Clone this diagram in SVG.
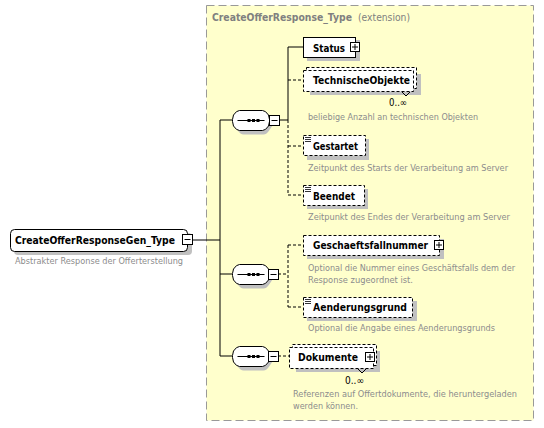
<svg xmlns="http://www.w3.org/2000/svg" width="544" height="428" viewBox="0 0 544 428">
<style>
.lbl{font-family:"DejaVu Sans","Liberation Sans",sans-serif;font-weight:bold;font-size:11px;fill:#000}
.desc{font-family:"DejaVu Sans","Liberation Sans",sans-serif;font-size:9px;fill:#8c8c8c}
.occ{font-family:"DejaVu Sans","Liberation Sans",sans-serif;font-size:10px;fill:#000}
.ttl{font-family:"DejaVu Sans","Liberation Sans",sans-serif;font-size:10px;fill:#808080}
.box{fill:#fff;stroke:#000;stroke-width:1}
.opt{fill:#fff;stroke:#000;stroke-width:1;stroke-dasharray:3,2}
.sh{fill:#c0c0c0}
.ln{stroke:#000;stroke-width:1;fill:none}
.dl{stroke:#000;stroke-width:1;fill:none;stroke-dasharray:3,2}
.sym{fill:#fff;stroke:#000;stroke-width:1}
</style>
<defs>
<g id="plus"><rect class="sym" x="0" y="0" width="9" height="9"/><path class="ln" d="M1.5,4.5H7.5M4.5,1.5V7.5"/></g>
<g id="minus"><rect class="sym" x="0" y="0" width="10" height="10"/><path class="ln" d="M2,5H8"/></g>
<g id="icon"><path d="M0,0.5H6M0,2.5H6M0,4.5H6" stroke="#000" stroke-width="0.8"/></g>
<g id="seq">
<path class="sh" d="M11,4H31Q34,4 37,8.5L40,13V15L37,19.5Q34,24 31,24H11Q8,24 5,19.5L4,15V13L5,8.5Q8,4 11,4Z"/>
<path class="box" d="M7,0H30Q33,0 36,4.5L37,9V11L36,15.5Q33,20 30,20H7Q4,20 1,15.5L0,11V9L1,4.5Q4,0 7,0Z"/>
<path class="ln" d="M5,10H32"/>
<rect x="15" y="8.5" width="3" height="3" fill="#000"/><rect x="19.5" y="8.5" width="3" height="3" fill="#000"/><rect x="24" y="8.5" width="3" height="3" fill="#000"/>
</g>
</defs>

<g id="extension">
<rect x="206.5" y="5.5" width="327" height="415" fill="#ffffcc" stroke="#999" stroke-dasharray="8,4"/>
<text class="ttl" x="212" y="21" font-weight="bold" textLength="140" lengthAdjust="spacingAndGlyphs">CreateOfferResponse_Type</text>
<text class="ttl" x="358" y="21" textLength="52" lengthAdjust="spacingAndGlyphs">(extension)</text>
</g>

<g id="connectors">
<path class="ln" d="M193,240H220M220,120V356M220,120H232M220,274H232M220,356H232"/>
<path class="ln" d="M279,120H288M288,47V120M288,47H304"/>
<path class="dl" d="M288,120V195M288,80H303M288,146H303M288,195H303"/>
<path class="dl" d="M278,274H288M288,245V307M288,245H303M288,307H303"/>
<path class="dl" d="M278,356H290"/>
</g>

<g id="root">
<rect class="sh" x="14" y="233" width="178" height="22" rx="4"/>
<rect class="box" x="10.5" y="229.5" width="177" height="22" rx="4"/>
<text class="lbl" x="15" y="244" textLength="160" lengthAdjust="spacingAndGlyphs">CreateOfferResponseGen_Type</text>
<use href="#minus" x="182.5" y="234.5"/>
<text class="desc" x="15" y="264" textLength="168" lengthAdjust="spacingAndGlyphs">Abstrakter Response der Offerterstellung</text>
</g>

<g id="seq1"><use href="#seq" x="232.5" y="110.5"/><use href="#minus" x="269.5" y="115.5"/></g>
<g id="seq2"><use href="#seq" x="232.5" y="264.5"/><use href="#minus" x="268.5" y="269.5"/></g>
<g id="seq3"><use href="#seq" x="232.5" y="346.5"/><use href="#minus" x="268.5" y="351.5"/></g>

<g id="Status">
<rect class="sh" x="307" y="40" width="53" height="21"/>
<rect class="box" x="303.5" y="37.5" width="52" height="20"/>
<text class="lbl" x="313" y="52" textLength="32" lengthAdjust="spacingAndGlyphs">Status</text>
<use href="#plus" x="350.5" y="42.5"/>
</g>

<g id="TechnischeObjekte">
<rect class="sh" x="310" y="74" width="111" height="21"/>
<rect class="opt" x="306.5" y="67.5" width="110" height="21"/>
<rect class="opt" x="303.5" y="70.5" width="110" height="21"/>
<path class="ln" d="M402,92L406,96M410,92L406,96" stroke-width="0.8"/>
<text class="lbl" x="313" y="84" textLength="97" lengthAdjust="spacingAndGlyphs">TechnischeObjekte</text>
<text class="occ" x="389" y="106" textLength="18" lengthAdjust="spacingAndGlyphs">0..∞</text>
<text class="desc" x="308" y="120" textLength="170" lengthAdjust="spacingAndGlyphs">beliebige Anzahl an technischen Objekten</text>
</g>

<g id="Gestartet">
<rect class="sh" x="307" y="139" width="62" height="21"/>
<rect class="opt" x="303.5" y="135.5" width="62" height="20"/>
<use href="#icon" x="305" y="137"/>
<text class="lbl" x="313" y="150" textLength="45" lengthAdjust="spacingAndGlyphs">Gestartet</text>
<text class="desc" x="308" y="171" textLength="200" lengthAdjust="spacingAndGlyphs">Zeitpunkt des Starts der Verarbeitung am Server</text>
</g>

<g id="Beendet">
<rect class="sh" x="307" y="189" width="61" height="20"/>
<rect class="opt" x="303.5" y="185.5" width="61" height="20"/>
<use href="#icon" x="305" y="187"/>
<text class="lbl" x="313" y="200" textLength="42" lengthAdjust="spacingAndGlyphs">Beendet</text>
<text class="desc" x="308" y="220" textLength="202" lengthAdjust="spacingAndGlyphs">Zeitpunkt des Endes der Verarbeitung am Server</text>
</g>

<g id="Geschaeftsfallnummer">
<rect class="sh" x="307" y="239" width="137" height="20"/>
<rect class="opt" x="303.5" y="235.5" width="136" height="20"/>
<text class="lbl" x="313" y="249" textLength="115" lengthAdjust="spacingAndGlyphs">Geschaeftsfallnummer</text>
<use href="#plus" x="434.5" y="240.5"/>
<text class="desc" x="308" y="271" textLength="207" lengthAdjust="spacingAndGlyphs">Optional die Nummer eines Geschäftsfalls dem der</text>
<text class="desc" x="308" y="283" textLength="105" lengthAdjust="spacingAndGlyphs">Response zugeordnet ist.</text>
</g>

<g id="Aenderungsgrund">
<rect class="sh" x="307" y="301" width="110" height="20"/>
<rect class="opt" x="303.5" y="297.5" width="109" height="20"/>
<use href="#icon" x="305" y="299"/>
<text class="lbl" x="313" y="311" textLength="94" lengthAdjust="spacingAndGlyphs">Aenderungsgrund</text>
<text class="desc" x="308" y="331" textLength="187" lengthAdjust="spacingAndGlyphs">Optional die Angabe eines Aenderungsgrunds</text>
</g>

<g id="Dokumente">
<rect class="sh" x="296" y="351" width="84" height="21"/>
<rect class="opt" x="292.5" y="344.5" width="84" height="21"/>
<rect class="opt" x="289.5" y="347.5" width="84" height="21"/>
<path class="ln" d="M358,369L362,373M366,369L362,373" stroke-width="0.8"/>
<text class="lbl" x="298" y="361" textLength="60" lengthAdjust="spacingAndGlyphs">Dokumente</text>
<use href="#plus" x="365.5" y="352.5"/>
<text class="occ" x="345" y="384" textLength="19" lengthAdjust="spacingAndGlyphs">0..∞</text>
<text class="desc" x="293" y="397" textLength="224" lengthAdjust="spacingAndGlyphs">Referenzen auf Offertdokumente, die heruntergeladen</text>
<text class="desc" x="293" y="409" textLength="65" lengthAdjust="spacingAndGlyphs">werden können.</text>
</g>
</svg>
